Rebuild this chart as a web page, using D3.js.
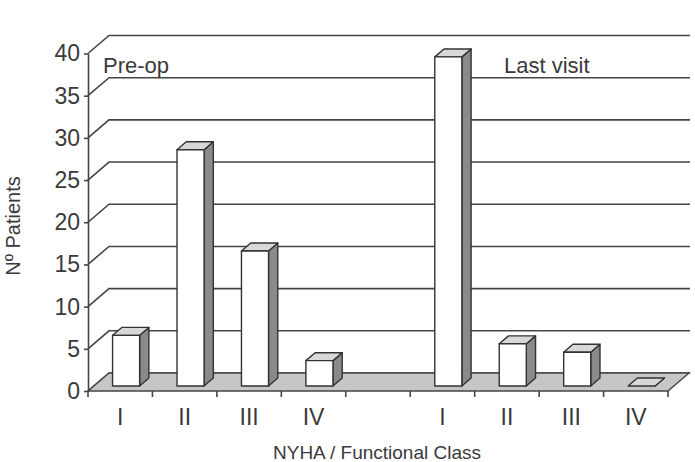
<!DOCTYPE html>
<html>
<head>
<meta charset="utf-8">
<script src="https://cdn.jsdelivr.net/npm/d3@7"></script>
<style>
  body { margin: 0; background: #fff; }
  text { font-family: "Liberation Sans", Arial, sans-serif; fill: #3a3a3a; }
</style>
</head>
<body>
<div id="chart"></div>
<script>
// data
var classes = ["I", "II", "III", "IV"];
var preOp = [6, 28, 16, 3];
var lastVisit = [39, 5, 4, 0];
var groupLabels = ["Pre-op", "Last visit"];
var yTicks = [0, 5, 10, 15, 20, 25, 30, 35, 40];

var slots = classes.map(function(c) { return "pre-" + c; })
    .concat(["gap"])
    .concat(classes.map(function(c) { return "last-" + c; }));
var bars = classes.map(function(c, i) { return {slot: "pre-" + c, value: preOp[i]}; })
    .concat(classes.map(function(c, i) { return {slot: "last-" + c, value: lastVisit[i]}; }));

var width = 695, height = 462;
var plotLeft = 88, plotRight = 668, plotBase = 391, plotTop = 53.5;
var dx = 21, dy = -18;          // depth offset of the back wall
var d0 = 0.28, d1 = 0.72;       // bar front / back depth
var lineCol = "#454545";

var svg = d3.select("#chart").append("svg")
    .attr("width", width)
    .attr("height", height);

var x = d3.scaleBand().domain(slots).range([plotLeft, plotRight]);
var y = d3.scaleLinear().domain([0, 40]).range([plotBase, plotTop]);

// back wall + side wall gridlines
svg.append("g").selectAll("path")
    .data(yTicks)
    .enter().append("path")
    .attr("d", function(t) {
        return "M" + plotLeft + "," + y(t) + "L" + (plotLeft + dx) + "," + (y(t) + dy) + "L690," + (y(t) + dy);
    })
    .attr("fill", "none")
    .attr("stroke", lineCol)
    .attr("stroke-width", 1.6);

// floor
svg.append("path")
    .attr("d", "M" + plotLeft + "," + plotBase + "L" + plotRight + "," + plotBase +
               "L" + (plotRight + dx) + "," + (plotBase + dy) + "L" + (plotLeft + dx) + "," + (plotBase + dy) + "Z")
    .attr("fill", "#c6c6c6")
    .attr("stroke", lineCol)
    .attr("stroke-width", 1.4);

// bars
var bw = x.bandwidth() * 0.42;
var ddx = (d1 - d0) * dx, ddy = (d1 - d0) * dy;
var gb = svg.append("g").selectAll("g")
    .data(bars)
    .enter().append("g");

function pts(a) { return a.map(function(p) { return p.join(","); }).join(" "); }

gb.each(function(d) {
    var g = d3.select(this);
    var xl = x(d.slot) + (x.bandwidth() - bw) / 2 + d0 * dx;
    var xr = xl + bw;
    var yt = y(d.value) + d0 * dy;
    var yb = plotBase + d0 * dy;
    g.append("polygon")
        .attr("points", pts([[xr, yt], [xr + ddx, yt + ddy], [xr + ddx, yb + ddy], [xr, yb]]))
        .attr("fill", "#8a8a8a");
    g.append("polygon")
        .attr("points", pts([[xl, yt], [xr, yt], [xr + ddx, yt + ddy], [xl + ddx, yt + ddy]]))
        .attr("fill", "#d8d8d8");
    if (d.value > 0) {
        g.append("rect")
            .attr("x", xl).attr("y", yt)
            .attr("width", bw).attr("height", yb - yt)
            .attr("fill", "#fff");
    }
    g.selectAll("polygon, rect")
        .attr("stroke", "#333")
        .attr("stroke-width", 1.4)
        .attr("stroke-linejoin", "round");
});

// y axis
var yAxis = svg.append("g")
    .attr("transform", "translate(" + plotLeft + ",0)")
    .call(d3.axisLeft(y).tickValues(yTicks).tickSize(4).tickSizeOuter(0).tickPadding(4));
yAxis.selectAll("path, line").attr("stroke", lineCol).attr("stroke-width", 1.6);
yAxis.selectAll("text").style("font-size", "23px").attr("fill", "#3a3a3a");

// x axis labels
var xAxis = svg.append("g")
    .attr("transform", "translate(0," + plotBase + ")")
    .call(d3.axisBottom(x).tickSize(0).tickPadding(18)
        .tickFormat(function(s) { return s === "gap" ? "" : s.split("-")[1]; }));
xAxis.select(".domain").remove();
xAxis.selectAll("text").style("font-size", "23px").attr("fill", "#3a3a3a");

// category boundary ticks
svg.append("g").selectAll("line")
    .data(slots.map(function(s) { return x(s); }).concat([plotRight]))
    .enter().append("line")
    .attr("x1", function(d) { return d; })
    .attr("x2", function(d) { return d; })
    .attr("y1", plotBase)
    .attr("y2", plotBase + 6)
    .attr("stroke", lineCol)
    .attr("stroke-width", 1.6);

// group labels
svg.append("text").attr("x", 103).attr("y", 73)
    .style("font-size", "22px").text(groupLabels[0]);
svg.append("text").attr("x", 504).attr("y", 73)
    .style("font-size", "22px").text(groupLabels[1]);

// axis titles
svg.append("text")
    .attr("transform", "translate(20,226) rotate(-90)")
    .attr("text-anchor", "middle")
    .style("font-size", "20px")
    .text("Nº Patients");
svg.append("text")
    .attr("x", 377).attr("y", 459)
    .attr("text-anchor", "middle")
    .style("font-size", "19px")
    .text("NYHA / Functional Class");
</script>
</body>
</html>
